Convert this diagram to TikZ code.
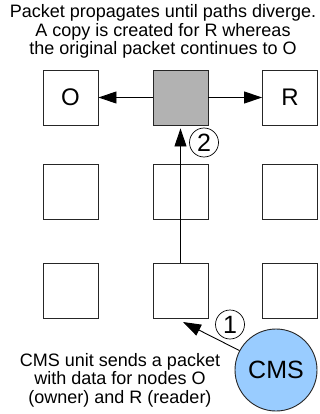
\documentclass[tikz,border=0pt]{standalone}
\usepackage{fontspec}
\setmainfont{Liberation Sans}
\usetikzlibrary{arrows.meta}
\begin{document}
\begin{tikzpicture}[x=1pt,y=-1pt,
  cell/.style={draw=black!85, line width=0.9pt, fill=white, minimum size=55pt, inner sep=0pt,
    font=\fontsize{24}{26}\selectfont},
  hot/.style={cell, fill=black!30},
  flow/.style={line width=0.9pt, -{Triangle[length=18pt,width=12pt]}},
  stepmark/.style={circle, draw, line width=0.7pt, minimum size=29pt, inner sep=0pt,
    font=\fontsize{25}{25}\selectfont},
  caption/.style={align=center, inner sep=0pt, font=\fontsize{18}{18.5}\selectfont}]
\useasboundingbox (0,0) rectangle (320,414);

% 3x3 grid of nodes
\node[cell] (o)   at (70.5,97.5)  {O};
\node[hot]  (mid) at (180.5,97.5) {};
\node[cell] (r)   at (290,97.5)   {R};
\node[cell] (a1)  at (70.5,191.5) {};
\node[cell] (a2)  at (180.5,191.5) {};
\node[cell] (a3)  at (290,191.5)  {};
\node[cell] (b1)  at (70.5,290.5) {};
\node[cell] (b2)  at (180.5,290.5) {};
\node[cell] (b3)  at (290,290.5)  {};

% CMS unit
\node[circle, draw=black!85, line width=0.9pt, fill={rgb,255:red,153;green,204;blue,255},
  minimum size=82pt, inner sep=0pt, font=\fontsize{25}{26}\selectfont] (cms) at (276,370) {CMS};

% packet path
\coordinate (entry) at (183,322);
\draw[flow] (cms.152) -- (entry);
\draw[flow, shorten >=3pt] (b2.north) -- (mid.south);
\draw[flow] (mid.west) -- (o.east);
\draw[flow] (mid.east) -- (r.west);

% step markers
\node[stepmark] (s1) at (230,324.5) {1};
\node[stepmark] (s2) at (204,142.5) {2};

% captions
\node[caption] (top) at (163,31.5) {Packet propagates until paths diverge.\\A copy is created for R whereas\\the original packet continues to O};
\node[caption] (bottom) at (120,380) {CMS unit sends a packet\\with data for nodes O\\(owner) and R (reader)};
\end{tikzpicture}
\end{document}
